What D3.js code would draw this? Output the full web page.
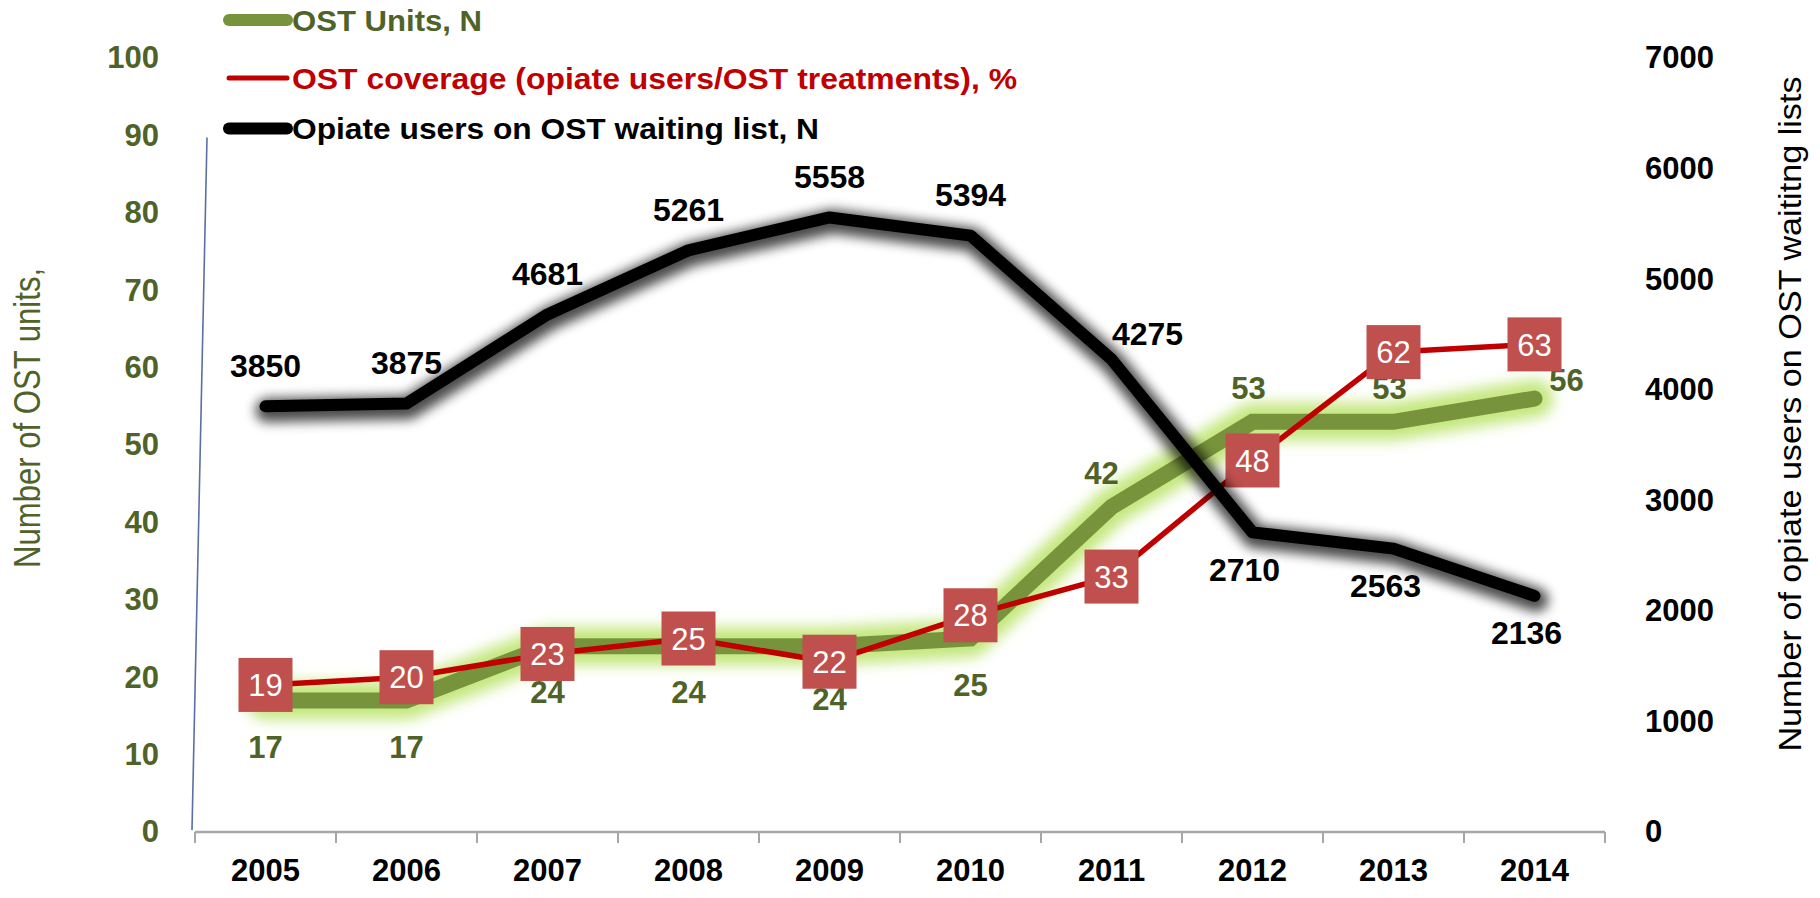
<!DOCTYPE html>
<html>
<head>
<meta charset="utf-8">
<script src="https://cdn.jsdelivr.net/npm/d3@7"></script>
<style>
  html, body { margin: 0; padding: 0; background: #ffffff; }
  svg { display: block; }
  text { font-family: "Liberation Sans", Arial, sans-serif; }
</style>
</head>
<body>
<svg id="chart" width="1820" height="898"></svg>
<script>
// ---------- data ----------
const years = ["2005", "2006", "2007", "2008", "2009", "2010", "2011", "2012", "2013", "2014"];
const ostUnits = [17, 17, 24, 24, 24, 25, 42, 53, 53, 56];
const ostCoverage = [19, 20, 23, 25, 22, 28, 33, 48, 62, 63];
const waitingList = [3850, 3875, 4681, 5261, 5558, 5394, 4275, 2710, 2563, 2136];
const leftTicks = [0, 10, 20, 30, 40, 50, 60, 70, 80, 90, 100];
const rightTicks = [0, 1000, 2000, 3000, 4000, 5000, 6000, 7000];
const waitingLabelPlace = ["above", "above", "above", "above", "above", "above", "right", "below", "below", "below"];
const unitsLabelPlace = ["below", "below", "below", "below", "lower", "below", "above", "above", "above", "right"];
const legendNames = ["OST Units, N", "OST coverage (opiate users/OST treatments), %", "Opiate users on OST waiting list, N"];
const leftTitle = "Number of OST units,";
const rightTitle = "Number of opiate users on OST waititng lists";

// ---------- styles ----------
const OLIVE = "#4F6228", GREEN = "#77933C", GLOW = "#C4E77E", RED = "#C00000", MARK = "#C0504D";

const svg = d3.select("#chart");
const defs = svg.append("defs");
defs.append("filter").attr("id", "blurG").attr("x", "-20%").attr("y", "-50%").attr("width", "140%").attr("height", "200%")
  .append("feGaussianBlur").attr("stdDeviation", 7);
defs.append("filter").attr("id", "blurK").attr("x", "-20%").attr("y", "-50%").attr("width", "140%").attr("height", "200%")
  .append("feGaussianBlur").attr("stdDeviation", 6);

// ---------- scales ----------
const x = d3.scaleBand().domain(years).range([195, 1605]);
const cx = d => x(d) + x.bandwidth() / 2;
const yL = d3.scaleLinear().domain([0, 100]).range([832, 58]);
const yR = d3.scaleLinear().domain([0, 7000]).range([832, 58]);

// ---------- axes ----------
const [x0, x1] = x.range();
svg.append("line").attr("x1", x0).attr("x2", x1).attr("y1", yL(0)).attr("y2", yL(0))
  .attr("stroke", "#A6A6A6").attr("stroke-width", 2.5);
svg.selectAll(".xtick").data(years.concat(["end"])).join("line")
  .attr("x1", d => d === "end" ? x1 : x(d)).attr("x2", d => d === "end" ? x1 : x(d))
  .attr("y1", yL(0)).attr("y2", yL(0) + 11).attr("stroke", "#A6A6A6").attr("stroke-width", 2);

const xAxis = svg.append("g").attr("transform", `translate(0,${yL(0)})`)
  .call(d3.axisBottom(x).tickSize(0).tickPadding(27));
xAxis.select(".domain").remove();
xAxis.selectAll("text").attr("font-size", 31).attr("font-weight", "bold").attr("fill", "#000")
  .attr("font-family", "Liberation Sans, Arial, sans-serif");

const lAxis = svg.append("g").attr("transform", "translate(162,0)")
  .call(d3.axisLeft(yL).tickValues(leftTicks).tickSize(0).tickPadding(3));
lAxis.select(".domain").remove();
lAxis.selectAll("text").attr("font-size", 31).attr("font-weight", "bold").attr("fill", OLIVE)
  .attr("font-family", "Liberation Sans, Arial, sans-serif");

const rAxis = svg.append("g").attr("transform", "translate(1642,0)")
  .call(d3.axisRight(yR).tickValues(rightTicks).tickFormat(d3.format("d")).tickSize(0).tickPadding(3));
rAxis.select(".domain").remove();
rAxis.selectAll("text").attr("font-size", 31).attr("font-weight", "bold").attr("fill", "#000")
  .attr("font-family", "Liberation Sans, Arial, sans-serif");

// axis titles
svg.append("text").attr("transform", `translate(40,${yL(53.5)}) rotate(-90)`)
  .attr("text-anchor", "middle").attr("font-size", 36).attr("fill", OLIVE)
  .attr("textLength", 300).attr("lengthAdjust", "spacingAndGlyphs").text(leftTitle);
svg.append("text").attr("transform", `translate(1801,${yR(3780)}) rotate(-90)`)
  .attr("text-anchor", "middle").attr("font-size", 32).attr("fill", "#000")
  .attr("textLength", 675).attr("lengthAdjust", "spacingAndGlyphs").text(rightTitle);

// odd slanted thin line near the left axis
svg.append("line").attr("x1", x0 + 12).attr("y1", yL(90) + 2).attr("x2", x0 - 3).attr("y2", yL(0) - 2)
  .attr("stroke", "#5B6FA6").attr("stroke-width", 1.6);

// ---------- series ----------
const lineUnits = d3.line().x((d, i) => cx(years[i])).y(d => yL(d));
const lineCov = d3.line().x((d, i) => cx(years[i])).y(d => yL(d));
const lineWait = d3.line().x((d, i) => cx(years[i])).y(d => yR(d));

// green units line with glow
svg.append("path").attr("d", lineUnits(ostUnits)).attr("fill", "none").attr("stroke", GLOW)
  .attr("stroke-width", 38).attr("stroke-linejoin", "round").attr("stroke-linecap", "round")
  .attr("opacity", 1).attr("filter", "url(#blurG)");
svg.append("path").attr("d", lineUnits(ostUnits)).attr("fill", "none").attr("stroke", GREEN)
  .attr("stroke-width", 16).attr("stroke-linejoin", "miter").attr("stroke-linecap", "round");

// green labels
const unitsOff = { below: [0, 46], lower: [0, 53], above: [-4, -34], right: [32, -19] };
svg.selectAll(".ulab").data(ostUnits).join("text")
  .attr("x", (d, i) => cx(years[i]) + unitsOff[unitsLabelPlace[i]][0] + (i === 6 ? -6 : 0))
  .attr("y", (d, i) => yL(d) + unitsOff[unitsLabelPlace[i]][1])
  .attr("dy", "0.36em").attr("text-anchor", "middle").attr("font-size", 31).attr("font-weight", "bold")
  .attr("fill", OLIVE).text(d => d);

// red coverage line + markers
svg.append("path").attr("d", lineCov(ostCoverage)).attr("fill", "none").attr("stroke", RED)
  .attr("stroke-width", 5.5).attr("stroke-linejoin", "round");
const box = 54;
svg.selectAll(".mk").data(ostCoverage).join("rect")
  .attr("x", (d, i) => cx(years[i]) - box / 2).attr("y", d => yL(d) - box / 2)
  .attr("width", box).attr("height", box).attr("fill", MARK);
svg.selectAll(".mkt").data(ostCoverage).join("text")
  .attr("x", (d, i) => cx(years[i])).attr("y", d => yL(d)).attr("dy", "0.36em")
  .attr("text-anchor", "middle").attr("font-size", 31).attr("fill", "#fff").text(d => d);

// black waiting-list line with shadow
svg.append("path").attr("d", lineWait(waitingList)).attr("fill", "none").attr("stroke", "#000")
  .attr("stroke-width", 24).attr("stroke-linejoin", "round").attr("stroke-linecap", "round")
  .attr("opacity", 0.7).attr("transform", "translate(2,4)").attr("filter", "url(#blurK)");
svg.append("path").attr("d", lineWait(waitingList)).attr("fill", "none").attr("stroke", "#000")
  .attr("stroke-width", 12).attr("stroke-linejoin", "round").attr("stroke-linecap", "round");

const waitOff = { above: [0, -41], right: [36, -26], below: [-8, 37] };
svg.selectAll(".wlab").data(waitingList).join("text")
  .attr("x", (d, i) => cx(years[i]) + waitOff[waitingLabelPlace[i]][0])
  .attr("y", (d, i) => yR(d) + waitOff[waitingLabelPlace[i]][1])
  .attr("dy", "0.36em").attr("text-anchor", "middle").attr("font-size", 32).attr("font-weight", "bold")
  .attr("fill", "#000").text(d => d);

// ---------- legend ----------
const legColors = [OLIVE, RED, "#000"];
const legStroke = [GREEN, RED, "#000"];
const legWidth = [12, 5, 12];
const legText = [190, 725, 527];
const legY = [yL(104.9), yL(97.4), yL(90.9)];
const lg = svg.append("g");
legendNames.forEach((name, i) => {
  lg.append("line").attr("x1", 229).attr("x2", 287).attr("y1", legY[i]).attr("y2", legY[i])
    .attr("stroke", legStroke[i]).attr("stroke-width", legWidth[i]).attr("stroke-linecap", "round");
  lg.append("text").attr("x", 292).attr("y", legY[i]).attr("dy", "0.36em")
    .attr("font-size", 30).attr("font-weight", "bold").attr("fill", legColors[i])
    .attr("textLength", legText[i]).attr("lengthAdjust", "spacingAndGlyphs").text(name);
});
</script>
</body>
</html>
